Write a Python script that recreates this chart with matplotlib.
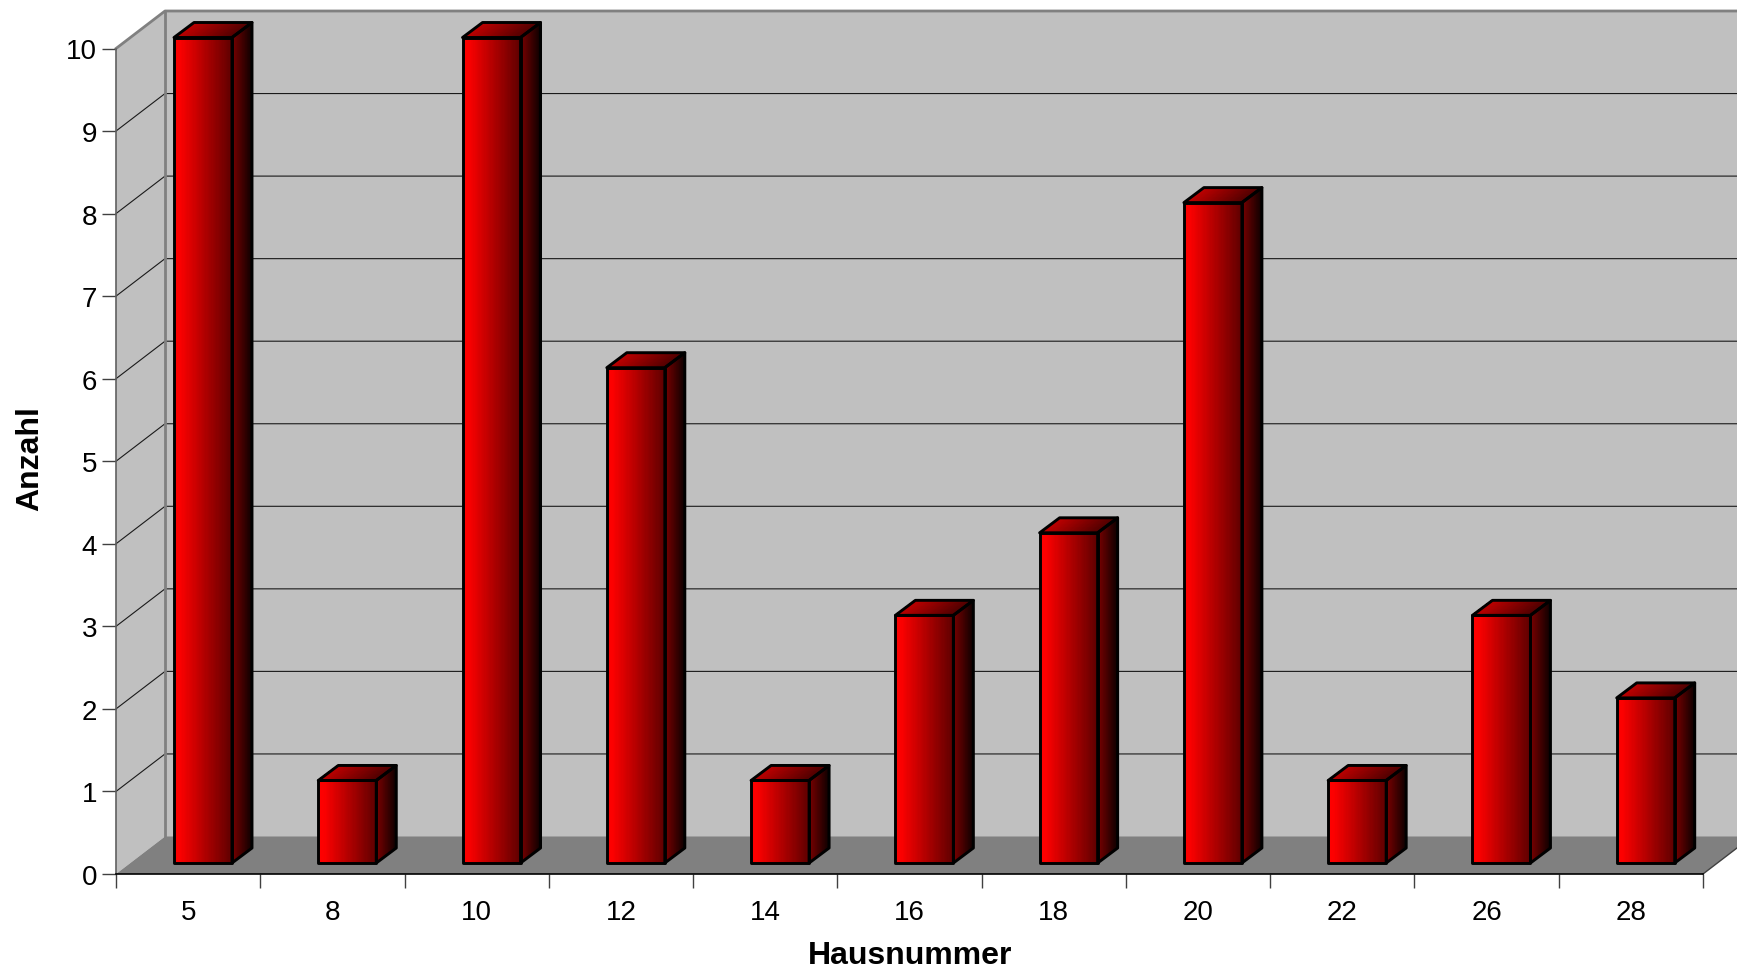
"""Pseudo-3D bar chart of counts per house number."""

import numpy as np
import matplotlib
matplotlib.use('Agg')
import matplotlib.pyplot as plt
from matplotlib.colors import LinearSegmentedColormap
from matplotlib.patches import Polygon

categories = ['5', '8', '10', '12', '14', '16', '18', '20', '22', '26', '28']
counts = [10, 1, 10, 6, 1, 3, 4, 8, 1, 3, 2]
y_ticks = list(range(0, 11))

W, H = 1737, 970
PX_L, PX_R, PX_B, PX_T = 116, 1703, 875, 49.5
UX = (PX_R - PX_L) / len(categories)   # px per category
UY = (PX_B - PX_T) / 10                # px per count

# depth of the box and of the bars, in data units
BOX_DX, BOX_DY = 49 / UX, 37.5 / UY
BAR_X0, BAR_W = 58 / UX, 58 / UX
BAR_Y0 = 11 / UY
BAR_DX, BAR_DY = 20 / UX, 15 / UY
X_END = (W - PX_L) / UX + 1

plt.rcParams['font.family'] = ['Liberation Sans', 'DejaVu Sans']

front_cm = LinearSegmentedColormap.from_list('front', [(0, '#ff0000'), (0.1, '#fc0000'), (1, '#5e0000')])
side_cm = LinearSegmentedColormap.from_list('side', ['#7a0000', '#0c0000'])
top_cm = LinearSegmentedColormap.from_list('top', ['#c00000', '#500000'])


def shade(ax, p0, p1, p2, p3, cmap, n=48):
    """Horizontal gradient across quad p0-p1 (left edge) to p3-p2 (right edge)."""
    t = np.linspace(0, 1, n + 1)
    p0, p1, p2, p3 = map(np.array, (p0, p1, p2, p3))
    lo = np.outer(1 - t, p0) + np.outer(t, p3)
    hi = np.outer(1 - t, p1) + np.outer(t, p2)
    X = np.vstack([lo[:, 0], hi[:, 0]])
    Y = np.vstack([lo[:, 1], hi[:, 1]])
    C = (t[:-1] + t[1:])[None, :] / 2
    ax.pcolormesh(X, Y, C, cmap=cmap, vmin=0, vmax=1, shading='flat',
                  clip_on=False, zorder=4, antialiased=False, rasterized=False, linewidth=0)
    ax.add_patch(Polygon([p0, p1, p2, p3], closed=True, fill=False, ec='black',
                         lw=2.1, joinstyle='round', clip_on=False, zorder=5))


fig = plt.figure(figsize=(W / 100, H / 100), dpi=100)
ax = fig.add_axes([PX_L / W, 1 - PX_B / H, (PX_R - PX_L) / W, (PX_B - PX_T) / H])
ax.set_xlim(0, len(categories))
ax.set_ylim(0, 10)
ax.patch.set_visible(False)

# walls and floor
ax.add_patch(Polygon([(0, 0), (BOX_DX, BOX_DY), (BOX_DX, 10 + BOX_DY), (0, 10)],
                     fc='#c0c0c0', ec='none', clip_on=False, zorder=1))
ax.add_patch(Polygon([(BOX_DX, BOX_DY), (X_END, BOX_DY), (X_END, 10 + BOX_DY), (BOX_DX, 10 + BOX_DY)],
                     fc='#c0c0c0', ec='none', clip_on=False, zorder=1))
ax.add_patch(Polygon([(0, 0), (BOX_DX, BOX_DY), (len(categories) + BOX_DX, BOX_DY), (len(categories), 0)],
                     fc='#808080', ec='none', clip_on=False, zorder=1.5))

# grid lines on the side and back walls
for v in y_ticks[1:-1]:
    ax.plot([0, BOX_DX, X_END], [v, v + BOX_DY, v + BOX_DY], color='#1a1a1a', lw=0.8,
            clip_on=False, zorder=2)
ax.plot([0, BOX_DX, X_END], [10, 10 + BOX_DY, 10 + BOX_DY], color='#808080', lw=2,
        clip_on=False, zorder=2)
ax.plot([BOX_DX, BOX_DX], [BOX_DY, 10 + BOX_DY], color='#808080', lw=2, clip_on=False, zorder=2)
ax.plot([len(categories), len(categories) + BOX_DX], [0, BOX_DY], color='#404040', lw=1,
        clip_on=False, zorder=2)

for i, v in enumerate(counts):
    x0 = i + BAR_X0
    x1 = x0 + BAR_W
    y0 = BAR_Y0
    y1 = v + BAR_Y0
    # side, top, then front so the front outline stays on top
    shade(ax, (x1, y0), (x1, y1), (x1 + BAR_DX, y1 + BAR_DY), (x1 + BAR_DX, y0 + BAR_DY), side_cm)
    shade(ax, (x0, y1), (x0 + BAR_DX, y1 + BAR_DY), (x1 + BAR_DX, y1 + BAR_DY), (x1, y1), top_cm)
    shade(ax, (x0, y0), (x0, y1), (x1, y1), (x1, y0), front_cm)

# axes
for side in ('top', 'right'):
    ax.spines[side].set_visible(False)
ax.spines['left'].set_color('#606060')
ax.spines['left'].set_linewidth(1.2)
ax.spines['bottom'].set_color('black')
ax.spines['bottom'].set_linewidth(1.2)
ax.set_xticks(np.arange(len(categories)) + 0.5, categories)
ax.set_xticks(np.arange(len(categories) + 1), minor=True)
ax.tick_params(axis='x', which='major', length=0, pad=18, labelsize=20)
ax.tick_params(axis='x', which='minor', length=10, width=1, color='#404040')
ax.set_yticks(y_ticks)
ax.tick_params(axis='y', length=10, width=1, color='#404040', pad=3.5, labelsize=20)
for lab in ax.get_yticklabels():
    lab.set_verticalalignment('center_baseline')
ax.set_xlabel('Hausnummer', fontsize=23, fontweight='bold')
ax.xaxis.set_label_coords(0.5003, -0.098, transform=ax.transAxes)
ax.xaxis.label.set_verticalalignment('center')
ax.set_ylabel('Anzahl', fontsize=23, fontweight='bold')
ax.yaxis.set_label_coords(-0.054, 0.504, transform=ax.transAxes)
ax.yaxis.label.set_verticalalignment('center')

fig.savefig('out.png', dpi=100)
plt.close(fig)
